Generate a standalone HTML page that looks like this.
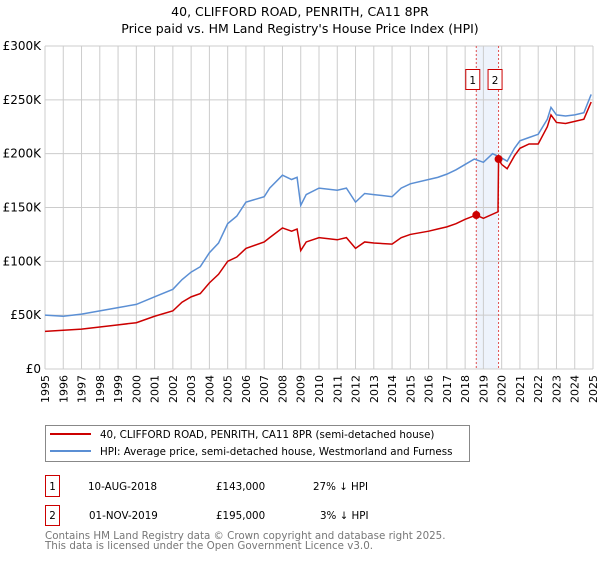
<!DOCTYPE html>
<html><head><meta charset="utf-8"><style>
body{margin:0;background:#fff;font-family:"DejaVu Sans","Liberation Sans",sans-serif;}
svg text{font-family:"DejaVu Sans","Liberation Sans",sans-serif;}
</style></head><body>
<svg id="c" width="600" height="560" xmlns="http://www.w3.org/2000/svg">
<text x="300" y="16" text-anchor="middle" font-size="12.5">40, CLIFFORD ROAD, PENRITH, CA11 8PR</text>
<text x="300" y="33" text-anchor="middle" font-size="12.5">Price paid vs. HM Land Registry's House Price Index (HPI)</text>
<g id="grid"></g><g id="series"></g><g id="ax"></g>
<rect x="45.5" y="425.5" width="424" height="36" fill="#fff" stroke="#888"/>
<line x1="50" y1="434" x2="91" y2="434" stroke="#cc0000" stroke-width="2"/>
<text x="100" y="438" font-size="10.3">40, CLIFFORD ROAD, PENRITH, CA11 8PR (semi-detached house)</text>
<line x1="50" y1="451" x2="91" y2="451" stroke="#5b8fd4" stroke-width="2"/>
<text x="100" y="455" font-size="10.3">HPI: Average price, semi-detached house, Westmorland and Furness</text>
<g>
<rect x="45.5" y="475.5" width="14" height="21" fill="#fff" stroke="#cc0000"/>
<text x="52.5" y="490" text-anchor="middle" font-size="10.3">1</text>
<text x="88" y="490" font-size="10.3">10-AUG-2018</text>
<text x="216" y="490" font-size="10.3">£143,000</text>
<text x="313" y="490" font-size="10.3">27% ↓ HPI</text></g>
<g>
<rect x="45.5" y="505.5" width="14" height="20" fill="#fff" stroke="#cc0000"/>
<text x="52.5" y="519" text-anchor="middle" font-size="10.3">2</text>
<text x="89" y="519" font-size="10.3">01-NOV-2019</text>
<text x="216" y="519" font-size="10.3">£195,000</text>
<text x="320" y="519" font-size="10.3">3% ↓ HPI</text></g>
<text x="45" y="539" font-size="10.3" fill="#777">Contains HM Land Registry data © Crown copyright and database right 2025.</text>
<text x="45" y="549" font-size="10.3" fill="#777">This data is licensed under the Open Government Licence v3.0.</text>
</svg>
<script>
const hpiYears=[1995,1996,1997,1998,1999,2000,2001,2002,2002.5,2003,2003.5,2004,2004.5,2005,2005.5,2006,2007,2007.3,2008,2008.5,2008.8,2009,2009.3,2010,2011,2011.5,2012,2012.5,2013,2014,2014.5,2015,2016,2016.5,2017,2017.5,2018,2018.5,2019,2019.5,2020,2020.3,2020.7,2021,2021.5,2022,2022.5,2022.7,2023,2023.5,2024,2024.5,2024.9];
const hpiValues=[50,49,51,54,57,60,67,74,83,90,95,108,117,135,142,155,160,168,180,176,178,152,162,168,166,168,155,163,162,160,168,172,176,178,181,185,190,195,192,200,196,193,205,212,215,218,232,243,236,235,236,238,255];
const ppYears=[1995,1996,1997,1998,1999,2000,2001,2002,2002.5,2003,2003.5,2004,2004.5,2005,2005.5,2006,2007,2007.3,2008,2008.5,2008.8,2009,2009.3,2010,2011,2011.5,2012,2012.5,2013,2014,2014.5,2015,2016,2016.5,2017,2017.5,2018,2018.6,2019,2019.8,2019.83,2020,2020.3,2020.7,2021,2021.5,2022,2022.5,2022.7,2023,2023.5,2024,2024.5,2024.9];
const ppValues=[35,36,37,39,41,43,49,54,62,67,70,80,88,100,104,112,118,122,131,128,130,110,118,122,120,122,112,118,117,116,122,125,128,130,132,135,139,143,140,146,195,190,186,198,205,209,209,225,236,229,228,230,232,248];
const saleYears=[2018.61,2019.83];
const saleValues=[143,195];
const saleLabels=["1","2"];
const yTicks=[0,50,100,150,200,250,300];
const yTickLabels=["£0","£50K","£100K","£150K","£200K","£250K","£300K"];
const xTicks=[];for(let y=1995;y<=2025;y++)xTicks.push(y);
const X0=45,X1=593,Y0=369,Y1=46;
const sx=v=>X0+(v-1995)/30*(X1-X0);
const sy=v=>Y0-v/300*(Y0-Y1);
const NS="http://www.w3.org/2000/svg";
function mk(t,a,p){const e=document.createElementNS(NS,t);for(const k in a)e.setAttribute(k,a[k]);p.appendChild(e);return e;}
const grid=document.getElementById('grid'),ax=document.getElementById('ax'),ser=document.getElementById('series');
const band=mk('rect',{x:sx(saleYears[0]),y:Y1,width:sx(saleYears[1])-sx(saleYears[0]),height:Y0-Y1,fill:'#eef3fc'},grid);


xTicks.forEach(t=>{
 const l=mk('line',{x1:sx(t),x2:sx(t),y1:Y1,y2:Y0,stroke:'#ccc'},grid);
 
 
 const tx=mk('text',{x:0,y:0,'font-size':11,'text-anchor':'end',transform:`translate(${sx(t)+4},${Y0+6}) rotate(-90)`},ax);
 tx.textContent=t;
 
 
});
yTicks.forEach((t,i)=>{
 const l=mk('line',{x1:X0,x2:X1,y1:sy(t),y2:sy(t),stroke:'#ccc'},grid);
 
 
 const tx=mk('text',{x:X0-4,y:sy(t)+4,'font-size':12,'text-anchor':'end'},ax);
 tx.textContent=yTickLabels[i];
 
 
});
saleYears.forEach((s,i)=>{
 const l=mk('line',{x1:sx(s),x2:sx(s),y1:Y1,y2:Y0,stroke:'#e05050','stroke-dasharray':'2,2'},grid);
 
 
 const r=mk('rect',{x:sx(s)-10.5,y:69.5,width:14,height:20,fill:'#fff',stroke:'#cc0000'},ax);
 
 
 const tx=mk('text',{x:sx(s)-3.5,y:84,'font-size':10.5,'text-anchor':'middle'},ax);
 tx.textContent=saleLabels[i];
 
 
});
const hp=mk('polyline',{points:hpiYears.map((y,i)=>sx(y)+','+sy(hpiValues[i])).join(' '),fill:'none',stroke:'#5b8fd4','stroke-width':1.5},ser);


const pp=mk('polyline',{points:ppYears.map((y,i)=>sx(y)+','+sy(ppValues[i])).join(' '),fill:'none',stroke:'#cc0000','stroke-width':1.5},ser);


saleYears.forEach((s,i)=>{
 const c=mk('circle',{cx:sx(s),cy:sy(saleValues[i]),r:4,fill:'#cc0000'},ser);
 
 
});
</script>
</body></html>
